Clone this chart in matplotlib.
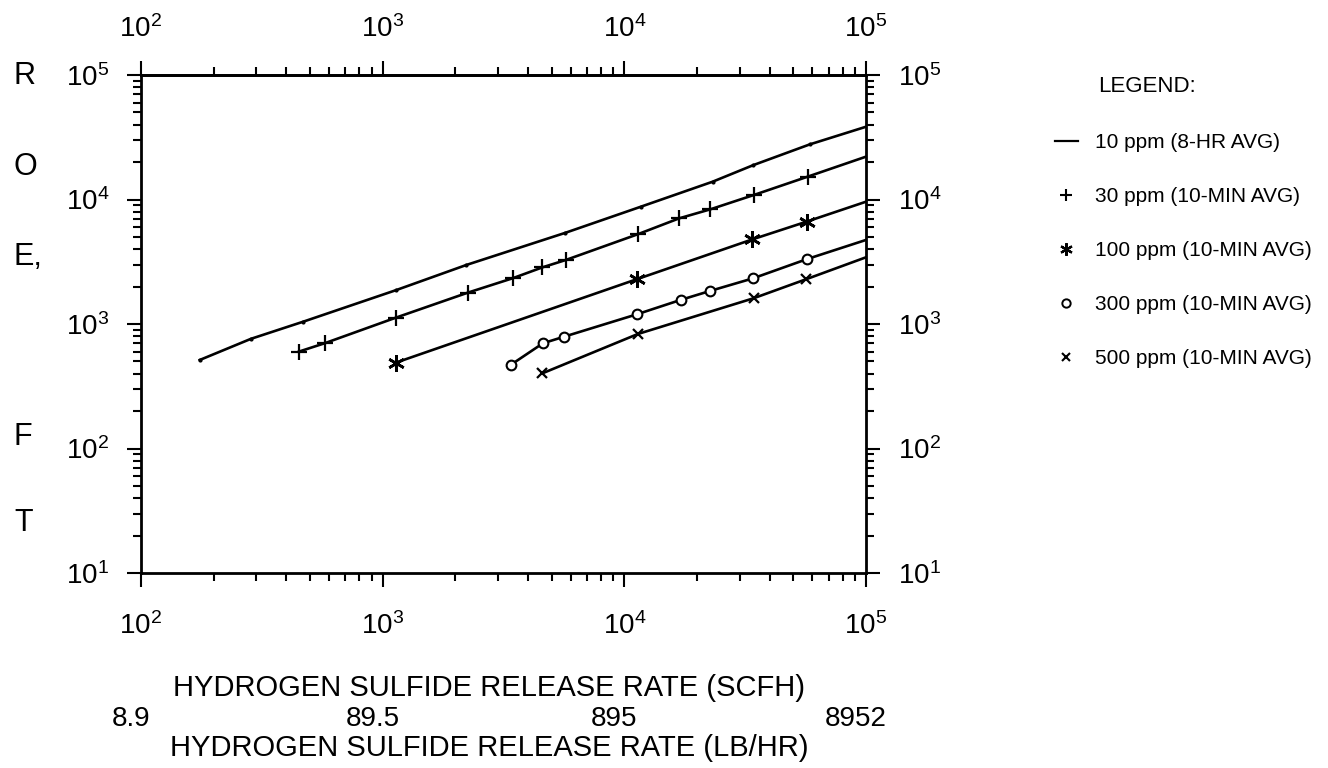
import numpy as np
import matplotlib
matplotlib.use("Agg")
import matplotlib.pyplot as plt
from matplotlib.lines import Line2D
from matplotlib import transforms
from matplotlib.ticker import FixedLocator

plt.rcParams["font.family"] = ["Liberation Sans", "DejaVu Sans"]

# ---- data (release rate SCFH -> distance FT) ----
x_10 = [175, 285, 470, 1140, 2220, 5700, 11700, 23200, 34200, 58500]
y_10 = [514, 760, 1045, 1875, 2980, 5400, 8750, 13900, 18900, 27700]
end_10 = 38400

x_30 = [450, 575, 1135, 2250, 3450, 4580, 5720, 11340, 16870, 22700, 34360, 57300]
y_30 = [600, 700, 1125, 1785, 2330, 2850, 3265, 5250, 7060, 8340, 10870, 15240]
end_30 = 22080

x_100 = [1133, 11230, 33900, 56800]
y_100 = [489, 2285, 4786, 6640]
end_100 = 9600

x_300 = [3385, 4603, 5636, 11280, 17080, 22620, 34120, 57150]
y_300 = [469, 700, 791, 1197, 1560, 1842, 2328, 3327]
end_300 = 4733

x_500 = [4585, 11390, 34240, 56400]
y_500 = [402, 832, 1609, 2285]
end_500 = 3434

x_end = 1e5

labels = ["10 ppm (8-HR AVG)", "30 ppm (10-MIN AVG)", "100 ppm (10-MIN AVG)",
          "300 ppm (10-MIN AVG)", "500 ppm (10-MIN AVG)"]

decades = [1e2, 1e3, 1e4, 1e5]
lbhr_txt = ["8.9", "89.5", "895", "8952"]

side_letters = ["R", "O", "E,", "F", "T"]
side_y = [76, 167, 257, 437, 523]   # pixel rows of the stacked letters

W, H = 1328, 768
fig = plt.figure(figsize=(W / 100, H / 100), dpi=100)
ax = fig.add_axes([141 / W, 1 - 573 / H, 725 / W, 498 / H])

series = [
    (x_10, y_10, end_10, dict(marker=".", ms=4)),
    (x_30, y_30, end_30, dict(marker="+", ms=11, mew=1.6)),
    (x_100, y_100, end_100, dict(marker=(6, 2, 0), ms=12, mew=1.9)),
    (x_300, y_300, end_300, dict(marker="o", ms=7, mfc="white", mew=1.5)),
    (x_500, y_500, end_500, dict(marker="x", ms=7, mew=1.6)),
]
for xs, ys, ye, mk in series:
    ax.plot(xs + [x_end], ys + [ye], color="black", lw=1.9)
    ax.plot(xs, ys, color="black", ls="none", **mk)

ax.set_xscale("log")
ax.set_yscale("log")
ax.set_xlim(1e2, 1e5)
ax.set_ylim(1e1, 1e5)

for s in ax.spines.values():
    s.set_linewidth(2)
ax.tick_params(which="both", direction="out", right=True, labelright=True,
               width=1.5, labelsize=20, color="black")
ax.tick_params(which="major", length=10)
ax.tick_params(which="minor", length=6)
ax.tick_params(axis="x", pad=18)
ax.tick_params(axis="y", pad=13)

# top scale repeats the release rate decades
top = ax.secondary_xaxis("top")
top.xaxis.set_major_locator(FixedLocator(decades))
top.tick_params(which="both", direction="out", width=1.5, labelsize=20)
top.tick_params(which="major", length=10, pad=13)
top.tick_params(which="minor", length=6)
top.spines["top"].set_linewidth(2)

# second scale under the axis: release rate in lb/hr
shift = transforms.offset_copy(ax.get_xaxis_transform(), fig=fig, x=-10, y=0, units="dots")
for xp, t in zip(decades, lbhr_txt):
    ax.text(xp, -0.293, t, transform=shift, ha="center", va="center", fontsize=20)
ax.text(0.48, -0.23, "HYDROGEN SULFIDE RELEASE RATE (SCFH)",
        transform=ax.transAxes, ha="center", va="center", fontsize=21)
ax.text(0.48, -0.352, "HYDROGEN SULFIDE RELEASE RATE (LB/HR)",
        transform=ax.transAxes, ha="center", va="center", fontsize=21)

for ch, py in zip(side_letters, side_y):
    fig.text(14 / W, 1 - py / H, ch, ha="left", va="center", fontsize=22)

fig.text(1098 / W, 1 - 87 / H, "LEGEND:", ha="left", va="center", fontsize=16)

handles = [
    Line2D([], [], color="black", lw=1.6),
    Line2D([], [], color="black", ls="none", marker="+", ms=8, mew=1.5),
    Line2D([], [], color="black", ls="none", marker=(6, 2, 0), ms=9, mew=1.6),
    Line2D([], [], color="black", ls="none", marker="o", ms=6, mfc="white", mew=1.4),
    Line2D([], [], color="black", ls="none", marker="x", ms=6, mew=1.5),
]
leg = fig.legend(handles, labels, loc="upper left",
                 bbox_to_anchor=(1055 / W, 1 - 133 / H), frameon=False,
                 fontsize=15, handlelength=1.1, handletextpad=0.8,
                 labelspacing=1.68, borderpad=0, borderaxespad=0)

fig.savefig("out.png", dpi=100, facecolor="white")
